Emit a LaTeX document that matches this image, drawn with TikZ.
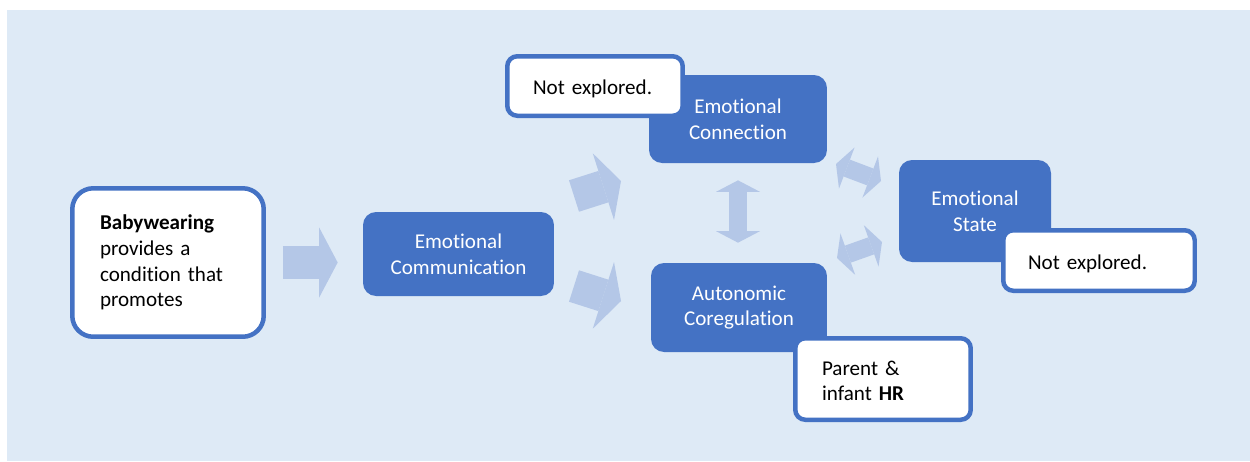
\documentclass[tikz,border=0pt]{standalone}
\usepackage{fontspec}
\setmainfont{Carlito}[Ligatures=NoCommon]
\usepackage{tikz}
\usetikzlibrary{arrows.meta}
\definecolor{BoxBlue}{HTML}{4472C4}
\definecolor{ArrowBlue}{HTML}{B4C7E7}
\definecolor{PanelBlue}{HTML}{DEEAF6}

\begin{document}
\begin{tikzpicture}[x=0.02cm, y=-0.02cm,
    font=\fontsize{12pt}{14.6pt}\selectfont,
    stage/.style={fill=BoxBlue, rounded corners=0.26cm, text=white,
      align=center, inner sep=0pt},
    note/.style={fill=white, draw=BoxBlue, line width=0.09cm,
      rounded corners=0.2cm, align=left, inner sep=0pt, text=black},
    blockarrow/.style={ArrowBlue, line width=0.66cm,
      -{Triangle[length=0.37cm, width=1.4cm, line width=0pt]}},
    linkarrow/.style={ArrowBlue, line width=0.36cm,
      {Triangle[length=0.23cm, width=0.88cm, line width=0pt]}-{Triangle[length=0.23cm, width=0.88cm, line width=0pt]}}]
  \useasboundingbox (0,0) rectangle (1250,461);
  \fill[PanelBlue] (7,10) rectangle (1250,461);

  % starting condition
  \node[note, rounded corners=0.42cm, minimum width=3.83cm, minimum height=2.97cm,
    text width=2.72cm] (bw) at (168,262.5)
    {\textbf{Babywearing}\\provides a\\condition that\\promotes};

  % pathway stages
  \node[stage, minimum width=3.82cm, minimum height=1.68cm] (comm) at (458.5,254)
    {Emotional\\Communication};
  \node[stage, minimum width=3.56cm, minimum height=1.76cm] (conn) at (738,119)
    {Emotional\\Connection};
  \node[stage, minimum width=3.52cm, minimum height=1.78cm] (auto) at (739,307.5)
    {Autonomic\\Coregulation};
  \node[stage, minimum width=3.04cm, minimum height=2.04cm] (state) at (975,211)
    {Emotional\\State};

  % arrow ends between the stages
  \coordinate (cu0) at (574,196);
  \coordinate (cu1) at (621,181);
  \coordinate (cl0) at (574,286);
  \coordinate (cl1) at (621,301);
  \coordinate (su0) at (836,164);
  \coordinate (su1) at (881,181);
  \coordinate (sl0) at (837,258);
  \coordinate (sl1) at (882,242);

  \draw[blockarrow, shorten <=0.34cm, shorten >=0.5cm]
    (bw.east) -- (bw.east -| comm.west);
  \draw[blockarrow] (cu0) -- (cu1);
  \draw[blockarrow] (cl0) -- (cl1);
  \draw[linkarrow, shorten <=0.34cm, shorten >=0.4cm]
    (conn.south) -- (conn.south |- auto.north);
  \draw[linkarrow] (su0) -- (su1);
  \draw[linkarrow] (sl0) -- (sl1);

  % measures (text sits a little low in the box)
  \node[note, minimum width=3.51cm, minimum height=1.19cm, text width=2.48cm]
    (connnote) at (595,86)
    {\raisebox{0pt}[\dimexpr\height+3.5pt][\depth]{Not explored.}};
  \node[note, minimum width=3.83cm, minimum height=1.21cm, text width=2.84cm]
    (statenote) at (1099,260.5)
    {\raisebox{0pt}[\dimexpr\height+3.5pt][\depth]{Not explored.}};
  \node[note, minimum width=3.51cm, minimum height=1.63cm, text width=2.44cm]
    (autonote) at (883,379)
    {\raisebox{0pt}[\dimexpr\height+2pt][\depth]{Parent \&}\\infant \textbf{HR}};
\end{tikzpicture}
\end{document}
